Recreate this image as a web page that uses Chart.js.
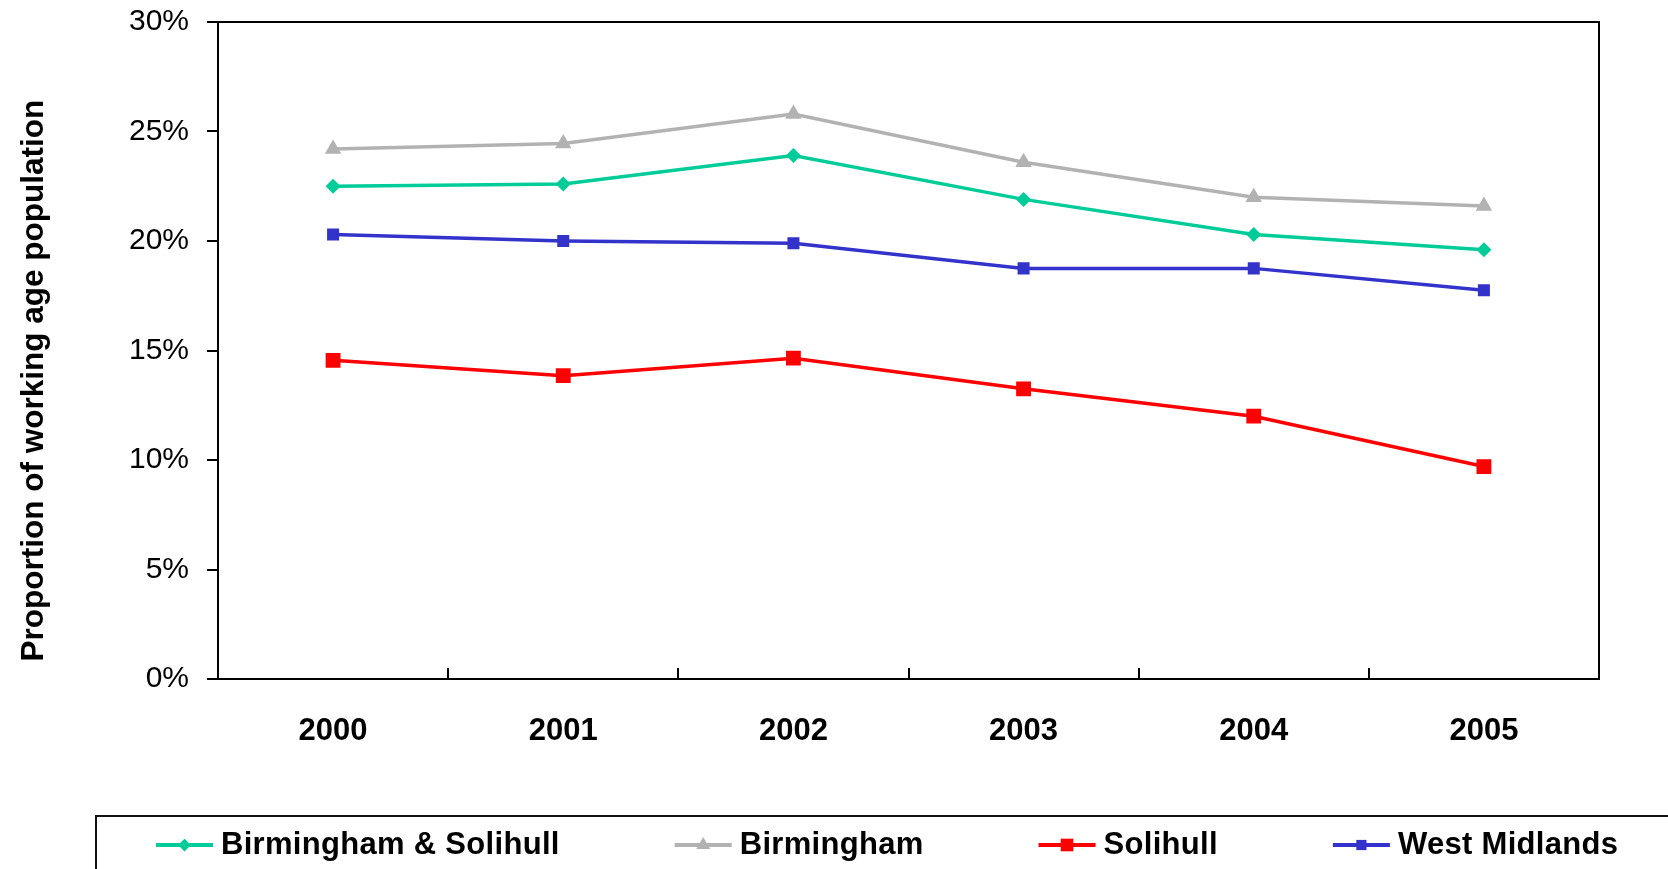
<!DOCTYPE html>
<html>
<head>
<meta charset="utf-8">
<script src="https://cdn.jsdelivr.net/npm/chart.js"></script>
<style>
  html, body { margin: 0; padding: 0; background: #fff; }
  #wrap { width: 1668px; height: 869px; }
</style>
</head>
<body>
<div id="wrap"><canvas id="mycanvas" width="1668" height="869"></canvas></div>
<script>
// values (percent of working age population)
const years = ['2000', '2001', '2002', '2003', '2004', '2005'];
const bhamSolihull = [22.5, 22.6, 23.9, 21.9, 20.3, 19.6];
const birmingham = [24.2, 24.45, 25.8, 23.6, 22.0, 21.6];
const solihull = [14.55, 13.85, 14.65, 13.25, 12.0, 9.7];
const westMidlands = [20.3, 20.0, 19.9, 18.75, 18.75, 17.75];
const yTicks = [0, 5, 10, 15, 20, 25, 30];

const FONT = '"Liberation Sans", Arial, sans-serif';

// box round the plot area
const frame = {
  id: 'frame',
  afterDatasetsDraw(chart) {
    const a = chart.chartArea;
    const ctx = chart.ctx;
    ctx.save();
    ctx.strokeStyle = '#000';
    ctx.lineWidth = 2;
    ctx.strokeRect(a.left, a.top, a.right - a.left, a.bottom - a.top);
    ctx.restore();
  }
};

// legend drawn in a framed strip under the chart, line + marker samples
const legendStrip = {
  id: 'legendStrip',
  afterDraw(chart) {
    const ctx = chart.ctx;
    ctx.save();
    ctx.strokeStyle = '#111';
    ctx.lineWidth = 2;
    ctx.strokeRect(96, 816, chart.width, 120);
    ctx.font = 'bold 31px ' + FONT;
    ctx.letterSpacing = '0.3px';
    ctx.textBaseline = 'middle';
    ctx.textAlign = 'left';
    let x = 156;
    const y = 845;
    chart.data.datasets.forEach(function(ds) {
      ctx.strokeStyle = ds.borderColor;
      ctx.lineWidth = 4;
      ctx.beginPath();
      ctx.moveTo(x, y);
      ctx.lineTo(x + 57, y);
      ctx.stroke();
      ctx.fillStyle = ds.borderColor;
      Chart.helpers.drawPoint(ctx, {
        pointStyle: ds.pointStyle,
        radius: ds.pointRadius * 0.85,
        rotation: 0,
        borderWidth: 0
      }, x + 28.5, y);
      ctx.fillStyle = '#000';
      ctx.fillText(ds.label, x + 65, y);
      x += 65 + ctx.measureText(ds.label).width + 115;
    });
    ctx.restore();
  }
};

function series(label, data, color, style, r) {
  return {
    label: label,
    data: data,
    borderColor: color,
    backgroundColor: color,
    pointBackgroundColor: color,
    pointBorderWidth: 0,
    pointStyle: style,
    pointRadius: r,
    pointHoverRadius: r,
    borderWidth: 3.5,
    tension: 0,
    fill: false
  };
}

const chartdata = {
  labels: years,
  datasets: [
    series('Birmingham & Solihull', bhamSolihull, '#00CC99', 'rectRot', 7.5),
    series('Birmingham', birmingham, '#B2B2B2', 'triangle', 9.5),
    series('Solihull', solihull, '#FF0000', 'rect', 10.5),
    series('West Midlands', westMidlands, '#3333CC', 'rect', 8.5)
  ]
};

const ctx = document.getElementById('mycanvas');

const lineGraph = new Chart(ctx, {
  type: 'line',
  data: chartdata,
  plugins: [frame, legendStrip],
  options: {
    responsive: false,
    animation: false,
    events: [],
    layout: { padding: { top: 22, right: 69, left: 0, bottom: 0 } },
    plugins: {
      legend: { display: false },
      tooltip: { enabled: false }
    },
    scales: {
      x: {
        offset: true,
        grid: {
          offset: true,
          drawOnChartArea: false,
          drawTicks: true,
          tickLength: -11,
          color: '#000',
          lineWidth: 2
        },
        border: { color: '#000', width: 2 },
        ticks: {
          color: '#000',
          padding: 45,
          maxRotation: 0,
          font: { family: FONT, size: 31, weight: 'bold' }
        },
        afterFit(scale) { scale.height = 190; }
      },
      y: {
        min: 0,
        max: 30,
        afterBuildTicks(scale) {
          scale.ticks = yTicks.map(function(v) { return { value: v }; });
        },
        grid: {
          drawOnChartArea: false,
          drawTicks: true,
          tickLength: 11,
          color: '#000',
          lineWidth: 2
        },
        border: { color: '#000', width: 2 },
        ticks: {
          color: '#000',
          padding: 18,
          font: { family: FONT, size: 30 },
          callback: function(v) { return v + '%'; }
        },
        title: {
          display: true,
          text: '  Proportion of working age population',
          color: '#000',
          align: 'start',
          padding: { top: 15, bottom: 0 },
          font: { family: FONT, size: 31.5, weight: 'bold' }
        },
        afterFit(scale) {
          scale.width = 218;
          scale.paddingTop = 0;
          scale.paddingBottom = 0;
        }
      }
    }
  }
});
</script>
</body>
</html>
